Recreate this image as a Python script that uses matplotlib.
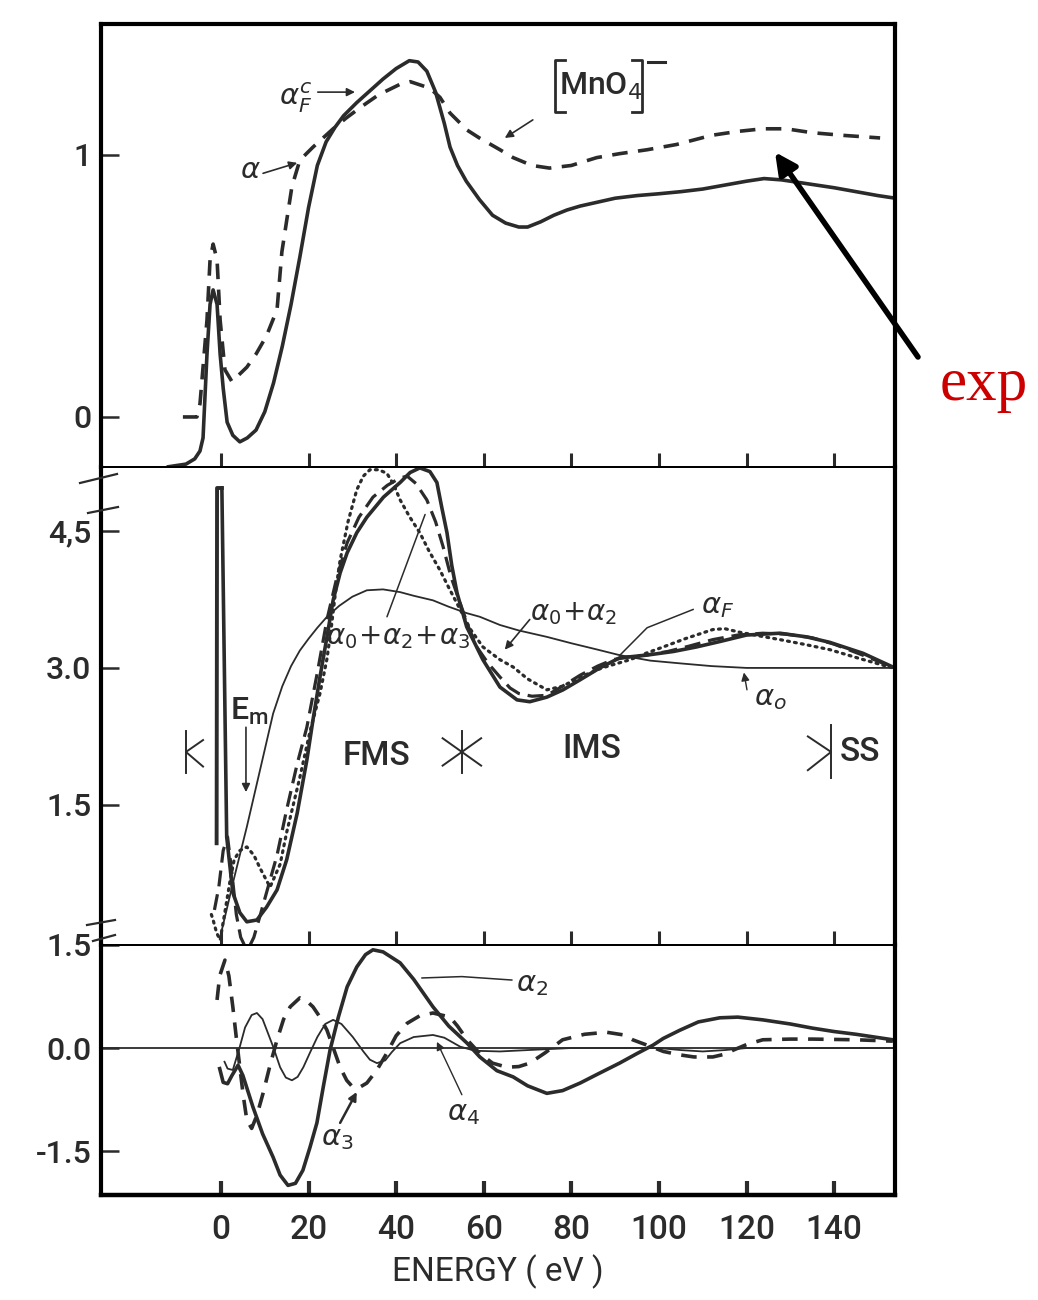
import numpy as np
import matplotlib.pyplot as plt
from matplotlib.lines import Line2D

plt.rcParams['font.family'] = ['Roboto', 'DejaVu Sans']
plt.rcParams['font.weight'] = 'medium'
plt.rcParams['mathtext.fontset'] = 'dejavusans'

INK = '#2b2b2b'

# ---- top panel: [MnO4]- spectra ----
top_fc_e = [-12, -8, -6, -4.8, -4.1, -3.2, -2.5, -1.8, -0.9, -0.2, 0.5, 1.4, 2.7, 4.3, 6, 8, 10,
            12, 14, 16, 18, 20, 22, 24, 26, 28, 31, 34, 37, 40, 43, 45, 47, 49, 51, 52.3,
            54, 56, 59, 62, 65, 68, 70, 73, 76, 79, 82, 86, 90, 95, 100, 105, 110, 115,
            120, 124, 128, 132, 136, 140, 145, 150, 154]
top_fc_v = [-0.19, -0.18, -0.16, -0.13, -0.08, 0.24, 0.43, 0.485, 0.43, 0.24, 0.11, -0.02,
            -0.07, -0.095, -0.08, -0.05, 0.02, 0.13, 0.27, 0.43, 0.61, 0.80, 0.96, 1.05,
            1.105, 1.15, 1.20, 1.245, 1.29, 1.33, 1.36, 1.355, 1.32, 1.24, 1.12, 1.03,
            0.96, 0.90, 0.83, 0.77, 0.74, 0.725, 0.725, 0.745, 0.77, 0.79, 0.805, 0.82,
            0.835, 0.845, 0.852, 0.86, 0.87, 0.885, 0.90, 0.91, 0.905, 0.895, 0.885, 0.875,
            0.86, 0.845, 0.835]

top_exp_e = [-8.7, -5.5, -4.8, -3.2, -2.5, -1.8, -0.9, -0.2, 0.9, 2.5, 5.9, 8, 10.4, 12.8,
             13.9, 15, 16.2, 18, 21, 25.6, 28.5, 31.7, 36, 40.9, 43.2, 47.7, 50, 52.3, 56.2,
             59, 63.7, 66.7, 71, 75, 80, 85.8, 91, 97.3, 104, 112, 118, 123.7, 129, 135,
             142, 150.5]
top_exp_v = [0.0, 0.0, 0.05, 0.37, 0.60, 0.66, 0.60, 0.37, 0.18, 0.135, 0.19, 0.24, 0.31,
             0.41, 0.63, 0.75, 0.88, 0.98, 1.03, 1.10, 1.14, 1.18, 1.23, 1.27, 1.28, 1.255,
             1.22, 1.16, 1.095, 1.065, 1.02, 0.99, 0.96, 0.95, 0.96, 0.99, 1.005, 1.02, 1.04,
             1.075, 1.09, 1.10, 1.10, 1.085, 1.075, 1.065]

# ---- middle panel: partial sums ----
mid_spike_e = [-1.0, -0.9, 0.2]
mid_spike_v = [1.08, 4.97, 4.97]

mid_f_e = [0.2, 1.3, 2.7, 4.3, 5.9, 8.2, 10.4, 12.8, 15, 17.4, 19.6, 21, 22.6, 24.2, 25.6,
           27.2, 28.8, 31, 33.3, 37.1, 40.9, 43.2, 45.4, 47.7, 49.3, 50.4, 51.6, 52.7, 53.9,
           56.1, 59.8, 63.7, 67.6, 70.5, 74.4, 78.1, 82, 86.5, 91, 97.2, 103.3, 108.6, 114,
           120, 127.6, 133.7, 139, 146.6, 153.4]
mid_f_v = [4.97, 1.15, 0.54, 0.32, 0.22, 0.24, 0.38, 0.57, 0.90, 1.41, 1.99, 2.43, 2.90, 3.34,
           3.74, 4.04, 4.26, 4.48, 4.65, 4.87, 5.03, 5.14, 5.19, 5.15, 5.03, 4.76, 4.48, 4.12,
           3.82, 3.45, 3.09, 2.79, 2.65, 2.63, 2.68, 2.76, 2.87, 3.00, 3.11, 3.14, 3.18, 3.23,
           3.29, 3.36, 3.38, 3.34, 3.28, 3.16, 3.01]

mid_023_e = [-1.5, -0.5, 0.5, 1.5, 2.5, 3.5, 4.5, 5.5, 6.5, 7.5, 9, 10.4, 12.8, 15, 17.4, 19.6,
             22, 24.2, 26.5, 28.8, 31.5, 34.7, 38, 40.9, 42.5, 44.5, 47, 49, 50.7, 52.5, 54.6,
             56.5, 58.4, 61, 63.7, 66, 68, 71, 74.4, 78, 82, 86, 89.5, 93, 97, 102, 107,
             112.3, 118, 123.7, 129, 135, 140, 146, 153.4]
mid_023_v = [0.35, 0.6, 1.0, 1.15, 0.75, 0.3, 0.05, -0.05, -0.05, 0.05, 0.3, 0.54, 0.95, 1.45,
             1.95, 2.35, 2.95, 3.53, 4.0, 4.37, 4.65, 4.87, 5.0, 5.08, 5.1, 5.02, 4.84, 4.6,
             4.33, 4.0, 3.71, 3.45, 3.23, 3.05, 2.9, 2.78, 2.72, 2.69, 2.7, 2.8, 2.92, 3.02,
             3.09, 3.12, 3.14, 3.18, 3.24, 3.31, 3.36, 3.38, 3.37, 3.33, 3.26, 3.15, 3.01]

mid_02_e = [-2.2, -1.8, -1.0, -0.2, 0.8, 2, 3, 4.3, 5.9, 7.5, 9, 11.2, 13.5, 15, 16.5, 18,
            20.3, 22.6, 24.2, 25.2, 26.2, 27.2, 29, 31, 32.5, 34, 36, 37.9, 39.5, 40.9, 43,
            45.4, 47.5, 50, 52, 54.6, 57, 59.8, 63.7, 66.7, 70, 74.4, 78, 82, 87, 93.4, 97,
            101, 106, 112.3, 115, 118.5, 123, 127.6, 133, 139, 146, 153.4]
mid_02_v = [0.3, 0.24, 0.1, 0.02, 0.3, 0.65, 0.9, 1.0, 1.04, 0.95, 0.8, 0.6, 0.85, 1.2, 1.5,
            1.8, 2.3, 2.72, 3.1, 3.45, 3.85, 4.18, 4.6, 4.95, 5.1, 5.17, 5.17, 5.13, 5.0, 4.84,
            4.66, 4.48, 4.28, 4.07, 3.88, 3.64, 3.42, 3.23, 3.09, 3.01, 2.88, 2.76, 2.80, 2.9,
            3.0, 3.09, 3.16, 3.23, 3.32, 3.42, 3.43, 3.39, 3.35, 3.31, 3.26, 3.2, 3.1, 3.0]

mid_0_e = [-0.2, 3, 5.9, 9, 11.9, 14, 16, 18, 20, 22, 24.2, 27, 30, 33.3, 37, 40.9, 44, 48.4,
           52, 56.1, 59.1, 63.7, 68, 74.4, 80, 86, 91, 98, 104.8, 112, 120, 135, 153.4]
mid_0_v = [0.05, 0.7, 1.26, 1.9, 2.5, 2.8, 3.02, 3.19, 3.32, 3.44, 3.56, 3.68, 3.78, 3.85,
           3.86, 3.83, 3.79, 3.74, 3.67, 3.60, 3.56, 3.47, 3.41, 3.34, 3.27, 3.2, 3.14, 3.08,
           3.05, 3.02, 3.0, 3.0, 3.0]

# ---- bottom panel: individual terms ----
bot_a2_e = [-0.3, 0.5, 1.5, 2.5, 3.9, 5, 6, 7.3, 9.5, 11.9, 13.5, 15.3, 17, 18.7, 20.3, 21.9,
            23.4, 24.9, 26.8, 28.8, 31, 33, 34.7, 37, 40.9, 44, 48.4, 52, 56.2, 59.1, 63,
            66.7, 70, 74.4, 78, 82, 86, 91, 95, 98.6, 101, 104.8, 109, 113.9, 118, 123.7,
            130, 135, 140, 145, 153.4]
bot_a2_v = [-0.3, -0.5, -0.52, -0.4, -0.25, -0.4, -0.6, -0.86, -1.25, -1.59, -1.85, -2.0,
            -1.97, -1.78, -1.45, -1.09, -0.55, -0.03, 0.45, 0.89, 1.18, 1.36, 1.43, 1.40,
            1.24, 1.0, 0.6, 0.32, 0.07, -0.13, -0.33, -0.42, -0.55, -0.66, -0.62, -0.51,
            -0.38, -0.22, -0.08, 0.04, 0.14, 0.26, 0.38, 0.44, 0.45, 0.41, 0.35, 0.29, 0.24,
            0.2, 0.12]

bot_a3_e = [-0.9, -0.3, 0.9, 1.8, 2.7, 3.5, 4.3, 5.1, 5.9, 7, 8.2, 9.6, 11.2, 12.8, 14.3,
            15.8, 18, 19.5, 21, 22.6, 24.2, 25.7, 27.2, 28.7, 30.1, 31.7, 33.3, 35.6, 37.9,
            40, 42.5, 45.4, 48.4, 52.3, 54, 56.2, 59.1, 62, 65.3, 68, 70.5, 74, 78, 83, 88,
            92, 94, 98.6, 101, 104.8, 108, 112.3, 115, 117, 120, 123.7, 130, 135, 145, 153.4]
bot_a3_v = [0.7, 1.05, 1.28, 1.05, 0.6, 0.15, -0.28, -0.7, -1.05, -1.17, -0.98, -0.66, -0.25,
            0.12, 0.42, 0.6, 0.73, 0.69, 0.6, 0.45, 0.26, -0.01, -0.28, -0.47, -0.57, -0.57,
            -0.51, -0.32, -0.07, 0.18, 0.36, 0.47, 0.51, 0.45, 0.32, 0.12, -0.08, -0.22,
            -0.28, -0.27, -0.22, -0.07, 0.12, 0.2, 0.23, 0.19, 0.12, 0.01, -0.05, -0.1,
            -0.13, -0.13, -0.09, -0.03, 0.05, 0.12, 0.13, 0.13, 0.12, 0.1]

bot_a4_e = [0.8, 1.5, 2.7, 3.5, 4.3, 5.5, 7, 8.2, 9.5, 10.7, 11.9, 13.5, 14.8, 16.2, 17.5,
            18.8, 20.3, 22, 23.8, 25.6, 27.5, 30.1, 32.5, 34, 35.6, 37.5, 39, 40.9, 44, 48.4,
            51, 54.6, 58, 63.7, 70, 80, 90, 100, 105, 110, 115, 120, 153.4]
bot_a4_v = [-0.2, -0.3, -0.32, -0.15, 0.02, 0.3, 0.48, 0.51, 0.42, 0.22, 0.02, -0.28, -0.43,
            -0.47, -0.42, -0.28, -0.07, 0.16, 0.35, 0.41, 0.35, 0.16, -0.05, -0.17, -0.22,
            -0.18, -0.06, 0.07, 0.16, 0.19, 0.15, 0.02, -0.04, -0.05, -0.03, 0.0, 0.0, 0.0,
            -0.03, -0.05, -0.03, 0.0, 0.0]

x_ticks = [0, 20, 40, 60, 80, 100, 120, 140]
top_ticks, top_labels = [0, 1], ['0', '1']
mid_ticks, mid_labels = [1.5, 3.0, 4.5], ['1.5', '3.0', '4,5']
bot_ticks, bot_labels = [-1.5, 0.0, 1.5], ['-1.5', '0.0', '1.5']

W, H = 1038, 1300
fig = plt.figure(figsize=(W / 100, H / 100), dpi=100)


def px_axes(l, t, r, b):
    return fig.add_axes([l / W, 1 - b / H, (r - l) / W, (b - t) / H])


ax_t = px_axes(101, 24, 895, 467)
ax_m = px_axes(101, 467, 895, 945)
ax_b = px_axes(101, 945, 895, 1195)

xlim = (-27.4, 153.9)
ax_t.set_ylim(-0.191, 1.50)
ax_m.set_ylim(-0.034, 5.20)
ax_b.set_ylim(-2.14, 1.5)

for ax, ticks, labels in [(ax_t, top_ticks, top_labels), (ax_m, mid_ticks, mid_labels),
                          (ax_b, bot_ticks, bot_labels)]:
    ax.set_xlim(*xlim)
    ax.set_xticks(x_ticks)
    ax.set_yticks(ticks)
    ax.set_yticklabels(labels)
    ax.tick_params(axis='x', direction='in', length=10, width=2.2, color=INK,
                   labelbottom=False)
    ax.tick_params(axis='y', direction='in', length=13, width=1.8, color=INK,
                   labelsize=23, labelcolor=INK, pad=7)
    for s in ['left', 'right']:
        ax.spines[s].set_linewidth(3.0)
    ax.spines['top'].set_linewidth(1.4)
    ax.spines['bottom'].set_linewidth(1.4)
    ax.patch.set_alpha(0)

ax_t.spines['top'].set_linewidth(3.0)
ax_b.spines['bottom'].set_linewidth(3.2)
ax_b.tick_params(axis='x', labelbottom=True, labelsize=24, labelcolor=INK, pad=14, width=3)
ax_b.set_xlabel('ENERGY ( eV )', fontsize=24, color=INK, labelpad=6)

# top panel curves
ax_t.plot(top_fc_e, top_fc_v, color=INK, lw=2.6)
ax_t.plot(top_exp_e, top_exp_v, color=INK, lw=2.6, linestyle=(0, (4.3, 2.9)))

# middle panel curves
ax_m.plot(mid_spike_e, mid_spike_v, color=INK, lw=2.8)
ax_m.plot(mid_f_e, mid_f_v, color=INK, lw=2.6)
ax_m.plot(mid_023_e, mid_023_v, color=INK, lw=2.3, linestyle=(0, (5, 2.5)))
ax_m.plot(mid_02_e, mid_02_v, color=INK, lw=2.3, linestyle=(0, (0.6, 1.6)),
          dash_capstyle='round')
ax_m.plot(mid_0_e, mid_0_v, color=INK, lw=1.3)

# bottom panel curves
ax_b.axhline(0, color=INK, lw=1.3)
ax_b.plot(bot_a2_e, bot_a2_v, color=INK, lw=2.6)
ax_b.plot(bot_a3_e, bot_a3_v, color=INK, lw=2.6, linestyle=(0, (4.3, 2.9)))
ax_b.plot(bot_a4_e, bot_a4_v, color=INK, lw=1.3)


def arrow(ax, start, end, lw=1.2, head=True):
    ax.annotate('', xy=end, xytext=start,
                arrowprops=dict(arrowstyle='-|>' if head else '-', lw=lw, color=INK,
                                mutation_scale=12, shrinkA=0, shrinkB=0))


lab = dict(color=INK, ha='center', va='center')

# top labels
ax_t.text(17.1, 1.218, r'$\alpha_F^c$', fontsize=21, **lab)
arrow(ax_t, (22.1, 1.24), (30.6, 1.24))
ax_t.text(6.8, 0.943, r'$\alpha$', fontsize=21, **lab)
arrow(ax_t, (9.6, 0.93), (17.4, 0.97))
ax_t.text(86.6, 1.262, r'MnO$_4$', fontsize=23, **lab)
ax_t.plot([78.5, 76.3, 76.3, 78.5], [1.363, 1.363, 1.164, 1.164], color=INK, lw=2)
ax_t.plot([93.8, 96.1, 96.1, 93.8], [1.363, 1.363, 1.164, 1.164], color=INK, lw=2)
ax_t.plot([97.5, 101.4], [1.355, 1.355], color=INK, lw=2.2)
arrow(ax_t, (71.2, 1.134), (64.8, 1.065))

# exp arrow (red label outside frame)
ax_t.annotate('', xy=(126.5, 1.011), xycoords='data',
              xytext=(918 / W, 1 - 357 / H), textcoords='figure fraction',
              arrowprops=dict(arrowstyle='-|>', lw=4, color='black', mutation_scale=32,
                              shrinkA=0, shrinkB=0),
              annotation_clip=False)
fig.text(984 / W, 1 - 400 / H, 'exp', color='#cc0000', fontsize=44, fontweight='normal',
         family=['Liberation Serif', 'DejaVu Serif'], ha='center', va='baseline')

# middle labels
ax_m.text(40.4, 3.33, r'$\alpha_0\!+\!\alpha_2\!+\!\alpha_3$', fontsize=20, **lab)
arrow(ax_m, (37.9, 3.56), (46.6, 4.68), lw=1.1, head=False)
ax_m.text(80.4, 3.60, r'$\alpha_0\!+\!\alpha_2$', fontsize=20, **lab)
arrow(ax_m, (70.5, 3.53), (64.8, 3.20))
ax_m.text(113.5, 3.68, r'$\alpha_F$', fontsize=21, **lab)
ax_m.plot([107.8, 97.3, 91.1], [3.64, 3.44, 3.14], color=INK, lw=1.1)
ax_m.text(125.5, 2.67, r'$\alpha_o$', fontsize=21, **lab)
arrow(ax_m, (120.1, 2.76), (119.4, 2.95), lw=1.0)
ax_m.text(6.4, 2.52, r'E$_\mathregular{m}$', fontsize=23, **lab)
arrow(ax_m, (5.7, 2.35), (5.7, 1.64), lw=1.2)
ax_m.text(35.4, 2.04, 'FMS', fontsize=24, **lab)
ax_m.text(84.7, 2.11, 'IMS', fontsize=24, **lab)
ax_m.text(145.9, 2.08, 'SS', fontsize=24, **lab)

# region boundary marks
yc, dy = 2.08, 0.23
ax_m.plot([-8.0, -8.0], [yc - dy, yc + dy], color=INK, lw=1.4)
ax_m.plot([-4.1, -8.0, -4.1], [yc + 0.13, yc, yc - 0.16], color=INK, lw=1.4)
ax_m.plot([55.0, 55.0], [yc - dy, yc + dy], color=INK, lw=1.4)
ax_m.plot([50.6, 59.4], [yc + 0.15, yc - 0.15], color=INK, lw=1.4)
ax_m.plot([50.6, 59.4], [yc - 0.15, yc + 0.15], color=INK, lw=1.4)
ax_m.plot([139.3, 139.3], [yc - 0.28, yc + 0.3], color=INK, lw=1.4)
ax_m.plot([134.0, 139.3, 134.0], [yc + 0.17, yc, yc - 0.2], color=INK, lw=1.4)

# bottom labels
ax_b.text(71.0, 0.93, r'$\alpha_2$', fontsize=21, **lab)
ax_b.plot([45.9, 55, 66.4], [1.02, 1.04, 0.99], color=INK, lw=1.1)
ax_b.text(26.5, -1.31, r'$\alpha_3$', fontsize=21, **lab)
arrow(ax_b, (27.2, -1.09), (31.0, -0.64), lw=1.8)
ax_b.text(55.3, -0.95, r'$\alpha_4$', fontsize=21, **lab)
arrow(ax_b, (55.0, -0.68), (49.3, 0.09), lw=1.0)

# axis break marks on the left spine
for (x0, y0, x1, y1) in [(80, 483, 117, 474), (88, 513, 118, 507),
                         (87, 925, 115, 920), (93, 941, 115, 935)]:
    fig.add_artist(Line2D([x0 / W, x1 / W], [1 - y0 / H, 1 - y1 / H],
                          transform=fig.transFigure, color=INK, lw=1.6))

fig.savefig('out.png', dpi=100)
